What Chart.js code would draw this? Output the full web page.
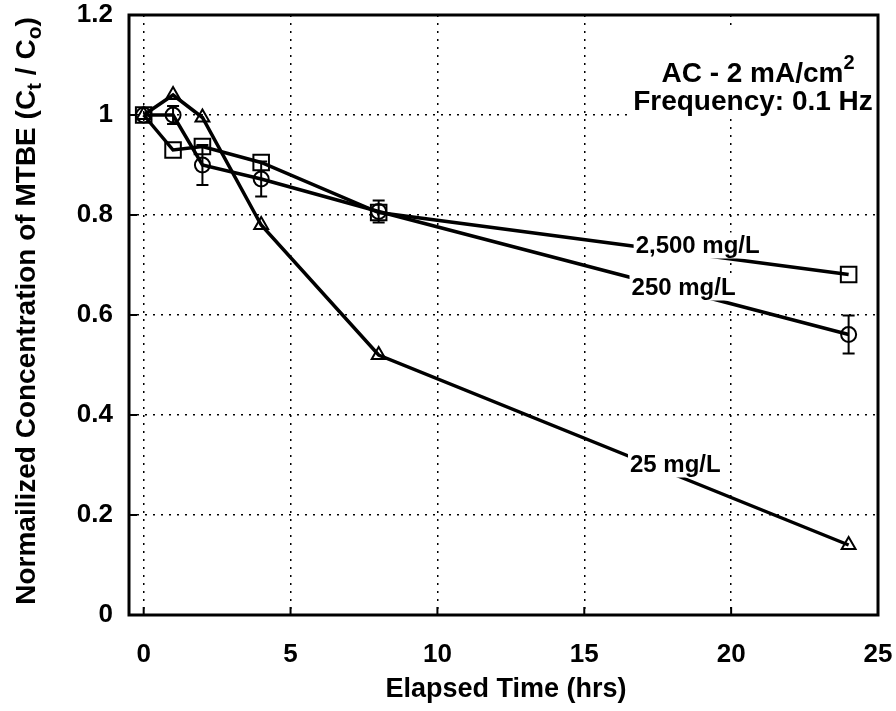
<!DOCTYPE html>
<html>
<head>
<meta charset="utf-8">
<script src="https://cdn.jsdelivr.net/npm/chart.js@4/dist/chart.umd.min.js"></script>
<style>
    html, body { margin: 0; padding: 0; background: #fff; }
    canvas { display: block; }
</style>
</head>
<body>
<canvas id="mtbeChart" width="896" height="711"></canvas>
<script>
// data
const hours = [0, 1, 2, 4, 8, 24];
const conc25 = [1.0, 1.04, 0.995, 0.78, 0.52, 0.14];
const conc250 = [1.0, 1.0, 0.9, 0.872, 0.807, 0.561];
const err250 = [0, 0.018, 0.04, 0.035, 0.022, 0.038];
const conc2500 = [1.0, 0.93, 0.937, 0.905, 0.805, 0.681];
const seriesNames = ["25 mg/L", "250 mg/L", "2,500 mg/L"];
const xTicks = [0, 5, 10, 15, 20, 25];
const yTicks = [0, 0.2, 0.4, 0.6, 0.8, 1, 1.2];

const FONT = '"Liberation Sans", Arial, Helvetica, sans-serif';

function toPoints(xs, ys) {
    return xs.map((x, i) => ({ x: x, y: ys[i] }));
}

// draws a list of text pieces, some raised or lowered (sub/superscripts)
function drawRich(ctx, parts, x, y, size) {
    let total = 0;
    parts.forEach(p => {
        ctx.font = "bold " + Math.round(size * (p.scale || 1)) + "px " + FONT;
        total += ctx.measureText(p.t).width;
    });
    let cx = x - total / 2;
    parts.forEach(p => {
        ctx.font = "bold " + Math.round(size * (p.scale || 1)) + "px " + FONT;
        ctx.textAlign = "left";
        ctx.fillText(p.t, cx, y + (p.dy || 0) * size);
        cx += ctx.measureText(p.t).width;
    });
    return total;
}

const extrasPlugin = {
    id: "extras",
    beforeDatasetsDraw(chart) {
        // error bars on the 250 mg/L series
        const ctx = chart.ctx;
        const xs = chart.scales.x, ys = chart.scales.y;
        ctx.save();
        ctx.strokeStyle = "#000";
        ctx.lineWidth = 2;
        hours.forEach((h, i) => {
            if (!err250[i]) return;
            const px = xs.getPixelForValue(h);
            const top = ys.getPixelForValue(conc250[i] + err250[i]);
            const bot = ys.getPixelForValue(conc250[i] - err250[i]);
            ctx.beginPath();
            ctx.moveTo(px, top); ctx.lineTo(px, bot);
            ctx.moveTo(px - 6, top); ctx.lineTo(px + 6, top);
            ctx.moveTo(px - 6, bot); ctx.lineTo(px + 6, bot);
            ctx.stroke();
        });
        ctx.restore();
    },
    afterDatasetsDraw(chart) {
        const ctx = chart.ctx;
        const xs = chart.scales.x, ys = chart.scales.y;
        const area = chart.chartArea;
        ctx.save();

        // series labels sitting on their lines
        const labelPos = [
            { x: 18.1, y: 0.301 },
            { x: 18.38, y: 0.655 },
            { x: 18.86, y: 0.739 }
        ];
        ctx.font = "bold 24px " + FONT;
        ctx.textBaseline = "middle";
        seriesNames.forEach((name, i) => {
            const px = xs.getPixelForValue(labelPos[i].x);
            const py = ys.getPixelForValue(labelPos[i].y);
            const w = ctx.measureText(name).width;
            ctx.fillStyle = "#fff";
            ctx.fillRect(px - w / 2 - 2, py - 13, w + 4, 26);
            ctx.fillStyle = "#000";
            ctx.textAlign = "center";
            ctx.fillText(name, px, py + 1);
        });

        // condition note, upper right
        ctx.fillStyle = "#fff";
        ctx.fillRect(630, area.top + 10, area.right - 632, 94);
        ctx.fillStyle = "#000";
        ctx.textBaseline = "alphabetic";
        drawRich(ctx, [
            { t: "AC - 2 mA/cm" },
            { t: "2", scale: 0.7, dy: -0.45 }
        ], 758, 82, 28);
        drawRich(ctx, [{ t: "Frequency: 0.1 Hz" }], 753, 110, 28);

        // plot frame and inner ticks
        ctx.strokeStyle = "#000";
        ctx.lineWidth = 3;
        ctx.strokeRect(area.left, area.top, area.right - area.left, area.bottom - area.top);
        ctx.lineWidth = 2;
        ctx.beginPath();
        xTicks.forEach(v => {
            const px = xs.getPixelForValue(v);
            ctx.moveTo(px, area.bottom); ctx.lineTo(px, area.bottom - 8);
        });
        yTicks.forEach(v => {
            const py = ys.getPixelForValue(v);
            ctx.moveTo(area.left, py); ctx.lineTo(area.left + 8, py);
        });
        ctx.stroke();

        // axis titles
        ctx.textBaseline = "middle";
        drawRich(ctx, [{ t: "Elapsed Time (hrs)" }], 506, 690, 27);

        ctx.translate(27, 311);
        ctx.rotate(-Math.PI / 2);
        drawRich(ctx, [
            { t: "Normailized Concentration of MTBE (C" },
            { t: "t", scale: 0.75, dy: 0.3 },
            { t: " / C" },
            { t: "o", scale: 0.75, dy: 0.3 },
            { t: ")" }
        ], 0, 0, 27.5);
        ctx.restore();
    }
};

const lineStyle = {
    showLine: true,
    borderColor: "#000",
    borderWidth: 3.5,
    pointBorderColor: "#000",
    pointBackgroundColor: "rgba(0,0,0,0)",
    pointBorderWidth: 2,
    tension: 0
};

new Chart(document.getElementById("mtbeChart"), {
    type: "scatter",
    data: {
        datasets: [
            Object.assign({
                label: seriesNames[0],
                data: toPoints(hours, conc25),
                pointStyle: "triangle",
                pointRadius: 8
            }, lineStyle),
            Object.assign({
                label: seriesNames[1],
                data: toPoints(hours, conc250),
                pointStyle: "circle",
                pointRadius: 7.5
            }, lineStyle),
            Object.assign({
                label: seriesNames[2],
                data: toPoints(hours, conc2500),
                pointStyle: "rect",
                pointRadius: 11
            }, lineStyle)
        ]
    },
    options: {
        responsive: false,
        animation: false,
        layout: { padding: { left: 0, top: 15, right: 18, bottom: 0 } },
        plugins: {
            legend: { display: false },
            tooltip: { enabled: false }
        },
        scales: {
            x: {
                type: "linear",
                min: -0.5,
                max: 25,
                afterBuildTicks: scale => { scale.ticks = xTicks.map(v => ({ value: v })); },
                afterFit: scale => {
                    scale.height = 96;
                    scale.paddingLeft = 0;
                    scale.paddingRight = 0;
                },
                grid: {
                    color: ctx => (ctx.tick && ctx.tick.value === 25) ? "rgba(0,0,0,0)" : "#000",
                    lineWidth: 1.5,
                    drawTicks: false
                },
                border: { display: false, dash: [2, 6] },
                ticks: {
                    padding: 24,
                    color: "#000",
                    font: { family: FONT, size: 26, weight: "bold" },
                    callback: v => String(v)
                }
            },
            y: {
                type: "linear",
                min: 0,
                max: 1.2,
                afterBuildTicks: scale => { scale.ticks = yTicks.map(v => ({ value: v })); },
                afterFit: scale => {
                    scale.width = 129;
                    scale.paddingTop = 0;
                    scale.paddingBottom = 0;
                },
                grid: {
                    color: ctx => (ctx.tick && (ctx.tick.value === 0 || ctx.tick.value === 1.2)) ? "rgba(0,0,0,0)" : "#000",
                    lineWidth: 1.5,
                    drawTicks: false
                },
                border: { display: false, dash: [2, 6] },
                ticks: {
                    padding: 16,
                    color: "#000",
                    font: { family: FONT, size: 26, weight: "bold" },
                    callback: v => String(v)
                }
            }
        }
    },
    plugins: [extrasPlugin]
});
</script>
</body>
</html>
